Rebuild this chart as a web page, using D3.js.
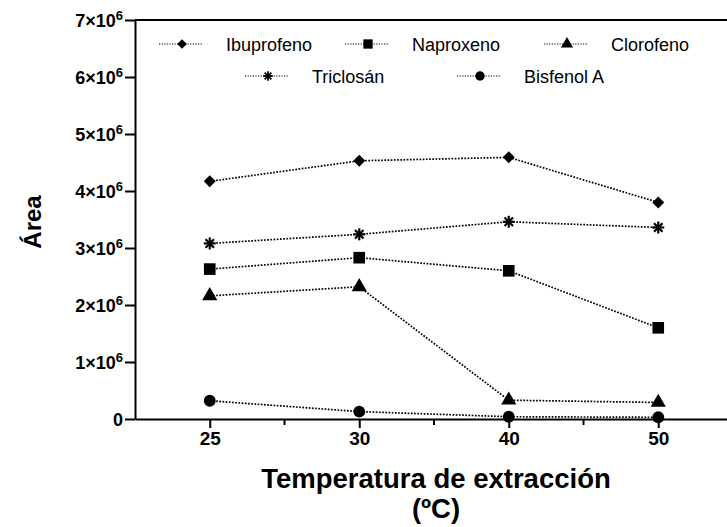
<!DOCTYPE html>
<html>
<head>
<meta charset="utf-8">
<script src="https://cdn.jsdelivr.net/npm/d3@7"></script>
<style>
  html, body { margin: 0; padding: 0; background: #fff; }
  svg { display: block; font-family: "Liberation Sans", Arial, Helvetica, sans-serif; }
</style>
</head>
<body>
<svg id="chart" width="727" height="527"></svg>
<script>
// ---- data ----
const categories = ["25", "30", "40", "50"];
const seriesNames = ["Ibuprofeno", "Naproxeno", "Clorofeno", "Triclosán", "Bisfenol A"];
const ibuprofeno = [4.17e6, 4.53e6, 4.59e6, 3.80e6];
const naproxeno  = [2.63e6, 2.83e6, 2.60e6, 1.60e6];
const clorofeno  = [2.16e6, 2.32e6, 0.33e6, 0.29e6];
const triclosan  = [3.08e6, 3.24e6, 3.46e6, 3.36e6];
const bisfenolA  = [0.32e6, 0.13e6, 0.04e6, 0.03e6];
const yTicks = [0, 1e6, 2e6, 3e6, 4e6, 5e6, 6e6, 7e6];
const yTickMantissa = ["0", "1", "2", "3", "4", "5", "6", "7"];
const xTitle = ["Temperatura de extracción", "(ºC)"];
const yTitle = "Área";

const seriesValues = [ibuprofeno, naproxeno, clorofeno, triclosan, bisfenolA];
const symbols = ["diamond", d3.symbolSquare, d3.symbolTriangle, "star", d3.symbolCircle];
const symbolSizes = [0, 135, 100, 0, 110];

const svg = d3.select("#chart");
const mLeft = 135, mRight = 733, mTop = 20, mBottom = 419;

const x = d3.scaleLinear().domain([-0.5, 3.5]).range([mLeft, mRight]);
const y = d3.scaleLinear().domain([0, 7e6]).range([mBottom, mTop]);

// top frame line
svg.append("line").attr("x1", mLeft).attr("x2", mRight).attr("y1", y(7e6)).attr("y2", y(7e6))
  .attr("stroke", "#000").attr("stroke-width", 2);

// y axis
const yAxis = d3.axisLeft(y).tickValues(yTicks).tickSize(10).tickSizeOuter(0).tickFormat(() => "");
const gy = svg.append("g").attr("transform", `translate(${mLeft},0)`).call(yAxis);
gy.select(".domain").attr("stroke-width", 2);
gy.selectAll(".tick line").attr("stroke-width", 2);
gy.selectAll(".tick text").each(function(d, i) {
  const t = d3.select(this);
  t.attr("x", -12).attr("dy", "0.38em").attr("font-size", 18).attr("font-weight", "bold").attr("fill", "#000");
  if (d === 0) { t.text("0"); }
  else {
    t.append("tspan").text(yTickMantissa[i] + "×10");
    t.append("tspan").attr("font-size", 13).attr("dy", "-0.55em").text("6");
  }
});

// x axis
const xAxis = d3.axisBottom(x).tickValues(d3.range(categories.length)).tickSize(9).tickSizeOuter(0)
  .tickFormat(i => categories[i]);
const gx = svg.append("g").attr("transform", `translate(0,${mBottom})`).call(xAxis);
gx.select(".domain").attr("stroke-width", 2);
gx.selectAll(".tick line").attr("stroke-width", 2);
gx.selectAll(".tick text").attr("y", 13).attr("font-size", 19).attr("font-weight", "bold").attr("fill", "#000");
// minor ticks
const minor = d3.range(categories.length - 1).map(i => i + 0.5);
gx.selectAll(".minor").data(minor).join("line").attr("class", "minor")
  .attr("x1", d => x(d)).attr("x2", d => x(d)).attr("y1", 0).attr("y2", 6)
  .attr("stroke", "#000").attr("stroke-width", 2);

// axis titles
svg.append("text").attr("x", 436).attr("y", 488).attr("text-anchor", "middle")
  .attr("font-size", 27.5).attr("font-weight", "bold").text(xTitle[0]);
svg.append("text").attr("x", 436).attr("y", 518).attr("text-anchor", "middle")
  .attr("font-size", 27.5).attr("font-weight", "bold").text(xTitle[1]);
svg.append("text").attr("transform", "translate(41,222) rotate(-90)").attr("text-anchor", "middle")
  .attr("font-size", 24).attr("font-weight", "bold").text(yTitle);

// marker drawing helper
function drawMarker(g, k, cx, cy) {
  if (symbols[k] === "star") {
    const r = 6;
    const s = g.append("g").attr("transform", `translate(${cx},${cy})`);
    for (let a = 0; a < 4; a++) {
      const ang = a * Math.PI / 4;
      s.append("line").attr("x1", -r * Math.cos(ang)).attr("y1", -r * Math.sin(ang))
        .attr("x2", r * Math.cos(ang)).attr("y2", r * Math.sin(ang))
        .attr("stroke", "#000").attr("stroke-width", 2.2);
    }
  } else if (symbols[k] === "diamond") {
    g.append("path").attr("d", d3.symbol(d3.symbolSquare, 72)())
      .attr("transform", `translate(${cx},${cy}) rotate(45)`).attr("fill", "#000");
  } else {
    g.append("path").attr("d", d3.symbol(symbols[k], symbolSizes[k])())
      .attr("transform", `translate(${cx},${cy})`).attr("fill", "#000");
  }
}

// series lines
const line = d3.line().x((d, i) => x(i)).y(d => y(d));
seriesValues.forEach((vals, k) => {
  const g = svg.append("g");
  g.append("path").attr("d", line(vals)).attr("fill", "none").attr("stroke", "#000")
    .attr("stroke-width", 1.7).attr("stroke-dasharray", "1.7,1.5");
  vals.forEach((v, i) => drawMarker(g, k, x(i), y(v)));
});

// legend
const legendPos = [[182, 44], [368, 44], [567, 44], [268, 76], [480, 76]];
seriesNames.forEach((name, k) => {
  const [cx, cy] = legendPos[k];
  const g = svg.append("g");
  g.append("line").attr("x1", cx - 23).attr("x2", cx + 21).attr("y1", cy).attr("y2", cy)
    .attr("stroke", "#000").attr("stroke-width", 1.2).attr("stroke-dasharray", "1.2,1.4");
  g.append("g").attr("transform", `translate(${cx},${cy}) scale(0.8) translate(${-cx},${-cy})`)
    .call(sel => drawMarker(sel, k, cx, cy));
  g.append("text").attr("x", cx + 44).attr("y", cy + 7).attr("font-size", 18).attr("fill", "#000").text(name);
});
</script>
</body>
</html>
